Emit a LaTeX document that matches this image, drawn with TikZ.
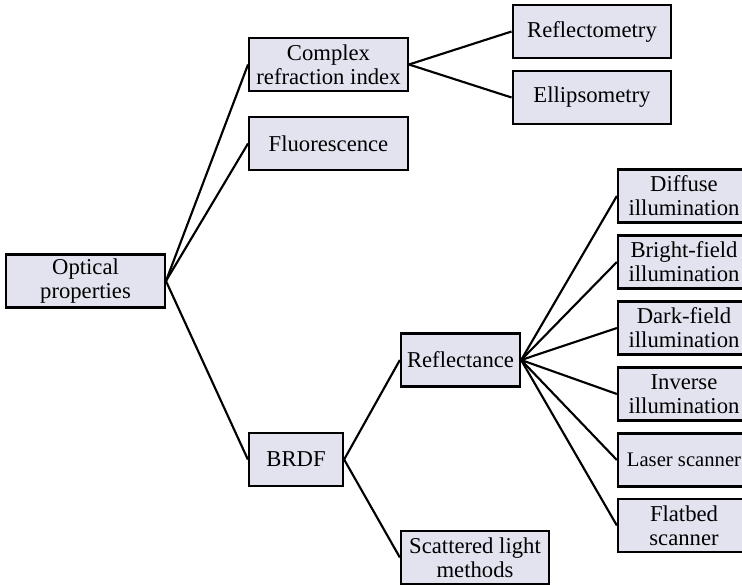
\documentclass[tikz,border=0pt]{standalone}
\usepackage{fontspec}
\setmainfont{Liberation Serif}
\usepackage{xcolor}
\usepackage{tikz}

\definecolor{boxfill}{RGB}{227,227,240}

\begin{document}
\begin{tikzpicture}[x=0.75pt,y=0.75pt,yscale=-1,xscale=1,
	box/.style={draw=black, fill=boxfill, line width=1.7pt, align=center, inner sep=0pt,
		minimum width=119pt, minimum height=39.75pt, font=\fontsize{17}{18}\selectfont},
	link/.style={line width=1.6pt}]
	\path[use as bounding box, clip] (0,0) rectangle (742,585);
	
	% first level
	\node [box] (opt) at (85.5,281) {Optical\\properties};
	\node [box] (cri) at (328.5,64.5) {Complex\\refraction index};
	\node [box] (fluo) at (328.5,143.5) {Fluorescence};
	\node [box, minimum width=70.5pt] (brdf) at (296,459.5) {BRDF};
	
	% second level
	\node [box] (refm) at (592,31.5) {Reflectometry};
	\node [box] (ellm) at (592,97.5) {Ellipsometry};
	\node [box, minimum width=89.25pt] (refl) at (460.5,360) {Reflectance};
	\node [box, minimum width=111pt] (scat) at (475,557.5) {Scattered light\\methods};
	
	% right column, spaced 66 apart
	\tikzset{col/.style={box, minimum width=99pt}}
	\node [col] (diff) at (684,196) {Diffuse\\illumination};
	\node [col] (bright) at (684,262) {Bright-field\\illumination};
	\node [col] (dark) at (684,328) {Dark-field\\illumination};
	\node [col] (inv) at (684,394) {Inverse\\illumination};
	\node [col, font=\fontsize{15.5}{18}\selectfont] (laser) at (684,460) {Laser scanner};
	\node [col] (flat) at (684,525.5) {Flatbed\\scanner};
	
	% connectors
	\draw [link] (opt.east) -- (cri.west);
	\draw [link] (opt.east) -- (fluo.west);
	\draw [link] (opt.east) -- (brdf.west);
	\draw [link] (cri.east) -- (refm.west);
	\draw [link] (cri.east) -- (ellm.west);
	\draw [link] (brdf.east) -- (refl.west);
	\draw [link] (brdf.east) -- (scat.west);
	\foreach \n in {diff,bright,dark,inv,laser,flat}
		\draw [link] (refl.east) -- (\n.west);
\end{tikzpicture}
\end{document}
